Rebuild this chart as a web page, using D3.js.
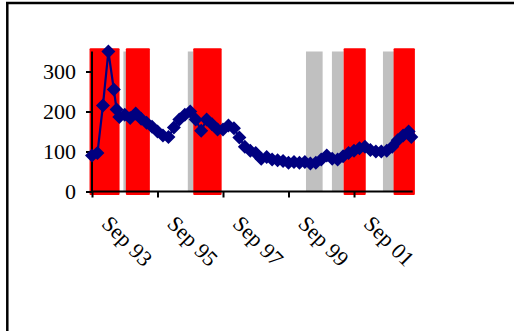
<!DOCTYPE html>
<html>
<head>
<meta charset="utf-8">
<script src="https://cdn.jsdelivr.net/npm/d3@7"></script>
<style>
  html, body { margin: 0; padding: 0; background: #fff; }
  svg { display: block; }
</style>
</head>
<body>
<svg id="chart" width="514" height="331"></svg>
<script>
// ---- data (months since Sep 1993, values) ----
const months = [0, 2, 4, 6, 8, 9, 10, 12, 14, 16, 18, 20, 22, 24, 26, 28, 30, 32, 34, 36, 38,
  40, 42, 44, 46, 48, 50, 52, 54, 56, 58, 60, 62, 64, 66, 68, 70, 72, 74, 76, 78,
  80, 82, 84, 86, 88, 90, 92, 94, 96, 98, 100, 102, 104, 106, 108, 110, 112, 114, 116, 117];
const values = [90, 96, 215, 350, 255, 205, 186, 192, 184, 195, 182, 172, 162, 150, 140, 136, 160, 180, 192, 200, 180,
  152, 180, 168, 155, 155, 165, 158, 135, 112, 102, 96, 82, 86, 80, 78, 76, 72, 74, 72, 74,
  70, 72, 80, 90, 82, 80, 88, 96, 102, 108, 112, 104, 100, 100, 102, 112, 128, 140, 150, 136];
// shaded periods (start month, end month)
const redStart = [-0.9, 12.4, 37.1, 92.2, 110.5];
const redEnd   = [10.1, 21.2, 47.5, 100.3, 118.3];
const greyStart = [11.5, 35.1, 78.4, 87.9, 106.6];
const greyEnd   = [13.0, 37.1, 84.5, 92.2, 110.6];
const yTicks = [0, 100, 200, 300];
const xTickMonths = [0, 24, 48, 72, 96];
const xTickLabels = ["Sep 93", "Sep 95", "Sep 97", "Sep 99", "Sep 01"];

const svg = d3.select("#chart");
const font = "'Liberation Serif', 'Times New Roman', serif";

const x = d3.scaleLinear().domain([0, 117.5]).range([92, 412.7]);
const y = d3.scaleLinear().domain([0, 350]).range([191.5, 51.5]);

// outer frame
svg.append("line").attr("x1", 6).attr("x2", 514).attr("y1", 3).attr("y2", 3)
  .attr("stroke", "#000").attr("stroke-width", 2.5);
svg.append("line").attr("x1", 7.3).attr("x2", 7.3).attr("y1", 2).attr("y2", 331)
  .attr("stroke", "#000").attr("stroke-width", 2.5);

// grey bands
svg.append("g").selectAll("rect").data(greyStart).join("rect")
  .attr("x", (d) => x(d))
  .attr("width", (d, i) => x(greyEnd[i]) - x(d))
  .attr("y", y(350))
  .attr("height", y(0) - y(350))
  .attr("fill", "#c0c0c0");

// red bands
svg.append("g").selectAll("rect").data(redStart).join("rect")
  .attr("x", (d) => x(d))
  .attr("width", (d, i) => x(redEnd[i]) - x(d))
  .attr("y", y(358))
  .attr("height", y(-9) - y(358))
  .attr("rx", 1)
  .attr("fill", "#ff0000");

// y axis
const yAxis = d3.axisLeft(y).tickValues(yTicks).tickSize(6).tickPadding(10);
const gy = svg.append("g").attr("transform", `translate(${x(0)},0)`).call(yAxis);
gy.select(".domain").attr("d", `M0,${y(350)}V${y(0)}`).attr("stroke", "#000").attr("stroke-width", 2);
gy.selectAll(".tick line").attr("stroke", "#000").attr("stroke-width", 2);
gy.selectAll(".tick text").attr("font-family", font).attr("font-size", 22).attr("fill", "#000");

// x axis
const xAxis = d3.axisBottom(x).tickValues(xTickMonths).tickSize(6).tickFormat("");
const gx = svg.append("g").attr("transform", `translate(0,${y(0)})`).call(xAxis);
gx.select(".domain").attr("d", `M${x(0)},0H${x(117.5)}`).attr("stroke", "#000").attr("stroke-width", 2);
gx.selectAll(".tick line").attr("stroke", "#000").attr("stroke-width", 2);

// rotated x tick labels
svg.append("g").selectAll("text").data(xTickMonths).join("text")
  .attr("transform", (d) => `translate(${x(d) + 14},${y(0) + 28}) rotate(45)`)
  .attr("dy", "0.35em")
  .attr("font-family", font).attr("font-size", 22).attr("fill", "#000")
  .text((d, i) => xTickLabels[i]);

// series line
const pts = months.map((m, i) => [m, values[i]]);
svg.append("path").datum(pts)
  .attr("d", d3.line().x((d) => x(d[0])).y((d) => y(d[1])))
  .attr("fill", "none").attr("stroke", "#000080").attr("stroke-width", 2.2);

// diamond markers
const r = 7;
svg.append("g").selectAll("path").data(pts).join("path")
  .attr("transform", (d) => `translate(${x(d[0])},${y(d[1])})`)
  .attr("d", `M0,${-r}L${r},0L0,${r}L${-r},0Z`)
  .attr("fill", "#000080");
</script>
</body>
</html>
